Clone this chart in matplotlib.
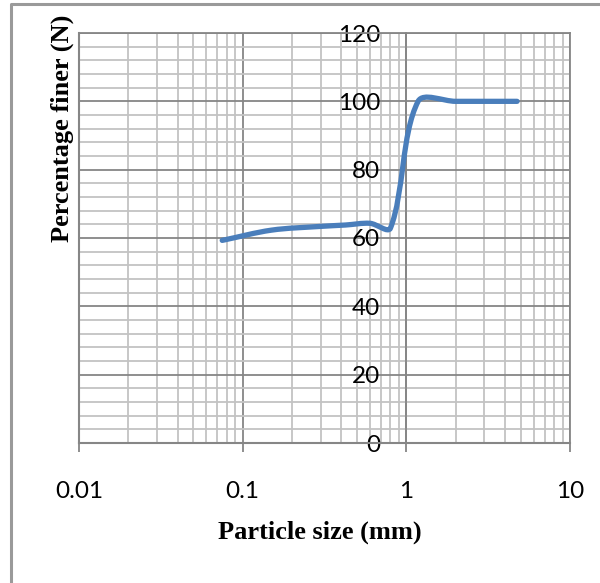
import numpy as np
import matplotlib
matplotlib.use("Agg")
import matplotlib.pyplot as plt
from matplotlib.path import Path
from matplotlib.patches import PathPatch
from matplotlib.lines import Line2D
from matplotlib.ticker import LogLocator, MultipleLocator, FixedLocator, FixedFormatter, NullFormatter

# ---- data ----
particle_size_mm = [0.075, 0.15, 0.3, 0.425, 0.6, 0.8, 1.18, 2.0, 4.75]
percent_finer = [59.3, 62.3, 63.4, 63.8, 64.3, 62.9, 100.0, 100.0, 100.0]
x_ticks = [0.01, 0.1, 1, 10]
x_tick_labels = ["0.01", "0.1", "1", "10"]
y_ticks = [0, 20, 40, 60, 80, 100, 120]
y_tick_labels = ["0", "20", "40", "60", "80", "100", "120"]

W, H = 600, 583
fig = plt.figure(figsize=(W / 100, H / 100), dpi=100)
ax = fig.add_axes([79 / W, 1 - 443 / H, (570 - 79) / W, (443 - 33) / H])
ax.set_xscale("log")
ax.set_xlim(0.01, 10)
ax.set_ylim(0, 120)

major_c = "#868686"
minor_c = "#c3c3c3"

ax.xaxis.set_major_locator(FixedLocator(x_ticks))
ax.xaxis.set_major_formatter(FixedFormatter(x_tick_labels))
ax.xaxis.set_minor_locator(LogLocator(base=10, subs=np.arange(2, 10)))
ax.xaxis.set_minor_formatter(NullFormatter())
ax.yaxis.set_major_locator(FixedLocator(y_ticks))
ax.yaxis.set_major_formatter(FixedFormatter(y_tick_labels))
ax.yaxis.set_minor_locator(MultipleLocator(4))

ax.grid(which="minor", color=minor_c, lw=1.3, zorder=0)
ax.grid(which="major", color=major_c, lw=1.3, zorder=0)
ax.set_axisbelow(True)

for s in ["top", "right"]:
    ax.spines[s].set_color(major_c)
    ax.spines[s].set_linewidth(1.3)
ax.spines["left"].set_position(("data", 1))
ax.spines["left"].set_color(major_c)
ax.spines["left"].set_linewidth(1.3)
ax.spines["bottom"].set_color(major_c)
ax.spines["bottom"].set_linewidth(1.5)
ax.axvline(0.01, color=major_c, lw=1.5, zorder=1, clip_on=False)

tick_font = "Lato"
ax.tick_params(axis="x", which="major", length=6.5, width=1.3, color=major_c,
               direction="out", pad=21, labelsize=17.5, labelcolor="black")
ax.tick_params(axis="y", which="major", length=0, pad=19, labelsize=17.5, labelcolor="black")
ax.tick_params(which="minor", length=0)
for lab in ax.get_xticklabels() + ax.get_yticklabels():
    lab.set_fontfamily(tick_font)

# ---- Excel-style smoothed line (Bezier through the data points, in screen space) ----
pts = ax.transData.transform(np.column_stack([particle_size_mm, percent_finer]))
n = len(pts)
verts = [pts[0]]
codes = [Path.MOVETO]
def ctrl(i):
    p0 = pts[max(i - 1, 0)]
    p1 = pts[i]
    p2 = pts[min(i + 1, n - 1)]
    d01 = np.hypot(*(p1 - p0))
    d12 = np.hypot(*(p2 - p1))
    tot = d01 + d12
    if tot == 0:
        return p1, p1
    tan = (p2 - p0) / 3.0
    return p1 - tan * d01 / tot, p1 + tan * d12 / tot
for i in range(n - 1):
    _, c1 = ctrl(i)
    c2, _ = ctrl(i + 1)
    verts += [c1, c2, pts[i + 1]]
    codes += [Path.CURVE4] * 3
data_verts = ax.transData.inverted().transform(np.array(verts))
path = Path(data_verts, codes)
ax.add_patch(PathPatch(path, facecolor="none", edgecolor="#4a7ebb", lw=3.8,
                       capstyle="round", joinstyle="round", zorder=3))

# ---- axis titles ----
fig.text(320 / W, 1 - 532 / H, "Particle size (mm)", ha="center", va="center",
         fontfamily="Liberation Serif", fontweight="bold", fontsize=19)
fig.text(62 / W, 1 - 128 / H, "Percentage finer (N)", ha="center", va="center",
         rotation=90, fontfamily="Liberation Serif", fontweight="bold", fontsize=19)

# ---- outer chart border ----
fig.add_artist(Line2D([11 / W, 11 / W, 1.02], [-0.02, 1 - 3.5 / H, 1 - 3.5 / H],
                      transform=fig.transFigure, color="#9a9a9a", lw=2.2))

fig.savefig("out.png", dpi=100, facecolor="white")
